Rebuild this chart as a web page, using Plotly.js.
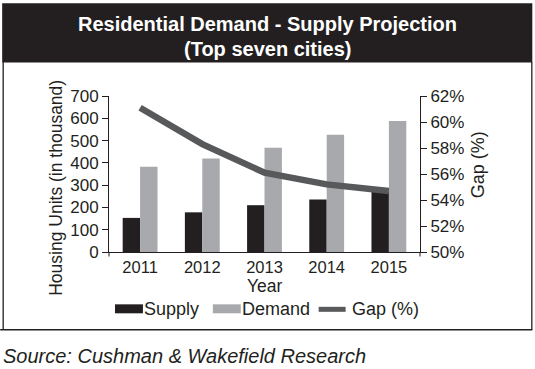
<!DOCTYPE html>
<html>
<head>
<meta charset="utf-8">
<script src="https://cdn.plot.ly/plotly-3.0.1.min.js"></script>
<style>
html,body{margin:0;padding:0;background:#fff;}
#chart{width:535px;height:369px;}
</style>
</head>
<body>
<div id="chart"></div>
<script>
var years = ['2011', '2012', '2013', '2014', '2015'];
var supply = [153, 178, 210, 236, 270];
var demand = [383, 419, 468, 526, 588];
var gapPct = [61.1, 58.3, 56.1, 55.2, 54.7];
var leftTicks = [0, 100, 200, 300, 400, 500, 600, 700];
var rightTicks = [50, 52, 54, 56, 58, 60, 62];
var rightTickLabels = ['50%', '52%', '54%', '56%', '58%', '60%', '62%'];

var W = 535, H = 369;
var L = 109, R = 420.5, T = 96, B = 252.5;
function px(x) { return (x - L) / (R - L); }
function py(y) { return (B - y) / (B - T); }

var FONT = '"Liberation Sans", Arial, sans-serif';
var INK = '#231f20';

var traces = [
  { type: 'bar', name: 'Supply', x: years, y: supply, marker: { color: '#231f20' }, showlegend: false, hoverinfo: 'skip' },
  { type: 'bar', name: 'Demand', x: years, y: demand, marker: { color: '#a7a9ac' }, showlegend: false, hoverinfo: 'skip' },
  { type: 'scatter', mode: 'lines', name: 'Gap (%)', x: years, y: gapPct, yaxis: 'y2',
    line: { color: '#58595b', width: 6.5 }, showlegend: false, hoverinfo: 'skip' }
];

var shapes = [
  // title bar
  { type: 'rect', xref: 'paper', yref: 'paper', x0: px(2), x1: px(533), y0: py(62.5), y1: py(3), fillcolor: '#231f20', line: { width: 0 }, layer: 'below' },
  // frame
  { type: 'line', xref: 'paper', yref: 'paper', x0: px(3), x1: px(3), y0: py(62), y1: py(330.5), line: { color: INK, width: 1.3 } },
  { type: 'line', xref: 'paper', yref: 'paper', x0: px(532.5), x1: px(532.5), y0: py(62), y1: py(330.5), line: { color: INK, width: 1.3 } },
  { type: 'line', xref: 'paper', yref: 'paper', x0: px(0), x1: px(533), y0: py(330.5), y1: py(330.5), line: { color: INK, width: 1.3 } },
  // x-axis end ticks
  { type: 'line', xref: 'paper', yref: 'paper', x0: 0, x1: 0, y0: 0, y1: py(257), line: { color: INK, width: 1 } },
  { type: 'line', xref: 'paper', yref: 'paper', x0: 1, x1: 1, y0: 0, y1: py(257), line: { color: INK, width: 1 } },
  // legend symbols
  { type: 'rect', xref: 'paper', yref: 'paper', x0: px(115), x1: px(143), y0: py(314), y1: py(305), fillcolor: '#231f20', line: { width: 0 } },
  { type: 'rect', xref: 'paper', yref: 'paper', x0: px(213), x1: px(241), y0: py(314), y1: py(305), fillcolor: '#a7a9ac', line: { width: 0 } },
  { type: 'line', xref: 'paper', yref: 'paper', x0: px(319), x1: px(346), y0: py(310), y1: py(310), line: { color: '#58595b', width: 5 } }
];

var annotations = [
  { text: '<b>Residential Demand - Supply Projection</b>', xref: 'paper', yref: 'paper', x: px(268), y: py(23.5), showarrow: false, font: { family: FONT, size: 20, color: '#ffffff' }, xanchor: 'center', yanchor: 'middle' },
  { text: '<b>(Top seven cities)</b>', xref: 'paper', yref: 'paper', x: px(268), y: py(48.5), showarrow: false, font: { family: FONT, size: 20, color: '#ffffff' }, xanchor: 'center', yanchor: 'middle' },
  { text: 'Housing Units (in thousand)', xref: 'paper', yref: 'paper', x: px(56), y: py(188), textangle: -90, showarrow: false, font: { family: FONT, size: 17.5, color: INK }, xanchor: 'center', yanchor: 'middle' },
  { text: 'Gap (%)', xref: 'paper', yref: 'paper', x: px(478), y: py(165), textangle: -90, showarrow: false, font: { family: FONT, size: 18, color: INK }, xanchor: 'center', yanchor: 'middle' },
  { text: 'Year', xref: 'paper', yref: 'paper', x: px(265), y: py(287), showarrow: false, font: { family: FONT, size: 17.5, color: INK }, xanchor: 'center', yanchor: 'middle' },
  { text: 'Supply', xref: 'paper', yref: 'paper', x: px(144), y: py(309.5), showarrow: false, font: { family: FONT, size: 18, color: INK }, xanchor: 'left', yanchor: 'middle', xshift: -2 },
  { text: 'Demand', xref: 'paper', yref: 'paper', x: px(242), y: py(309.5), showarrow: false, font: { family: FONT, size: 18, color: INK }, xanchor: 'left', yanchor: 'middle', xshift: -2 },
  { text: 'Gap (%)', xref: 'paper', yref: 'paper', x: px(352), y: py(309.5), showarrow: false, font: { family: FONT, size: 18, color: INK }, xanchor: 'left', yanchor: 'middle', xshift: -2 },
  { text: '<i>Source: Cushman &amp; Wakefield Research</i>', xref: 'paper', yref: 'paper', x: px(3), y: py(357), showarrow: false, font: { family: FONT, size: 20, color: INK }, xanchor: 'left', yanchor: 'middle', xshift: -2 }
];

var layout = {
  width: W, height: H,
  margin: { l: L, r: W - R, t: T, b: H - B, pad: 0 },
  paper_bgcolor: '#ffffff', plot_bgcolor: '#ffffff',
  barmode: 'group', bargap: 0.44, bargroupgap: 0,
  showlegend: false,
  font: { family: FONT, size: 17, color: INK },
  xaxis: {
    type: 'category', range: [-0.5, 4.5], showline: true, linecolor: INK, linewidth: 1,
    ticks: '', showgrid: false, zeroline: false, fixedrange: true,
    tickfont: { family: FONT, size: 16.5, color: INK }
  },
  yaxis: {
    range: [0, 700], tickvals: leftTicks, showline: true, linecolor: INK, linewidth: 1,
    ticks: 'outside', ticklen: 6, tickcolor: INK, tickwidth: 1, showgrid: false, zeroline: false,
    tickfont: { family: FONT, size: 17, color: INK }, fixedrange: true
  },
  yaxis2: {
    overlaying: 'y', side: 'right', range: [50, 62], tickvals: rightTicks, ticktext: rightTickLabels,
    showline: true, linecolor: INK, linewidth: 1, ticks: 'outside', ticklen: 6, tickcolor: INK, tickwidth: 1,
    showgrid: false, zeroline: false, tickfont: { family: FONT, size: 17, color: INK }, fixedrange: true
  },
  shapes: shapes,
  annotations: annotations
};

Plotly.newPlot('chart', traces, layout, { staticPlot: true, displayModeBar: false });
</script>
</body>
</html>
